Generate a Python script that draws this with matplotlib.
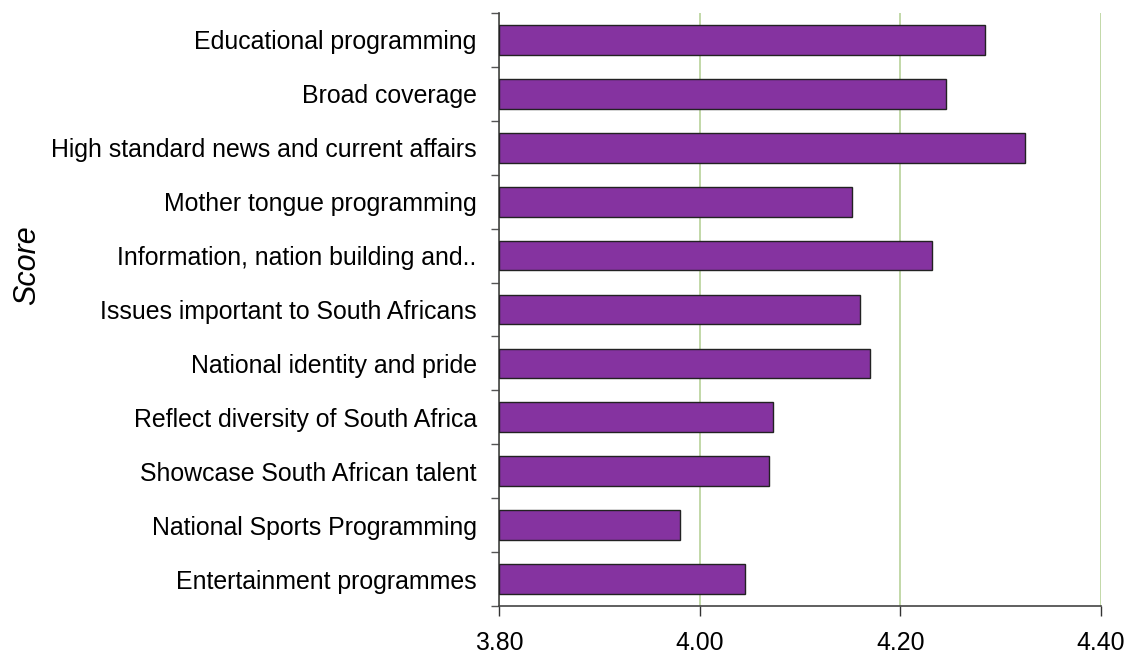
import matplotlib
matplotlib.use("Agg")
import matplotlib.pyplot as plt
import numpy as np

categories = [
    "Educational programming",
    "Broad coverage",
    "High standard news and current affairs",
    "Mother tongue programming",
    "Information, nation building and..",
    "Issues important to South Africans",
    "National identity and pride",
    "Reflect diversity of South Africa",
    "Showcase South African talent",
    "National Sports Programming",
    "Entertainment programmes",
]
scores = [4.284, 4.246, 4.324, 4.152, 4.232, 4.160, 4.170, 4.073, 4.069, 3.980, 4.045]
xticks = [3.80, 4.00, 4.20, 4.40]
xticklabels = ["3.80", "4.00", "4.20", "4.40"]

plt.rcParams['font.family'] = ['Liberation Sans', 'DejaVu Sans']

fig = plt.figure(figsize=(11.28, 6.57), dpi=100)
ax = fig.add_axes([499/1128, 1-606/657, (1101-499)/1128, (606-13)/657])

n = len(categories)
pos = np.arange(n)
ax.barh(pos, [s - 3.80 for s in scores], left=3.80, height=0.55,
        color="#8533a0", edgecolor="#222222", linewidth=1.0, zorder=3)

ax.set_ylim(n - 0.5, -0.5)
ax.set_xlim(3.80, 4.40)
ax.set_yticks(pos)
ax.set_yticklabels(categories, fontsize=17.9)
ax.set_yticks(np.arange(n + 1) - 0.5, minor=True)
ax.tick_params(axis='y', which='major', length=0, pad=16)
ax.tick_params(axis='y', which='minor', length=6, width=1, color="#555555", direction='out')

ax.set_xticks(xticks)
ax.set_xticklabels(xticklabels, fontsize=17.9)
ax.tick_params(axis='x', length=7, width=1, color="#333333", pad=11, direction='out')

ax.xaxis.grid(True, color="#b8d29a", linewidth=1.2, zorder=0)
ax.set_axisbelow(True)

for s in ['top', 'right']:
    ax.spines[s].set_visible(False)
for s in ['left', 'bottom']:
    ax.spines[s].set_color("#444444")
    ax.spines[s].set_linewidth(1.2)

fig.text(27/1128, 1-265/657, "Score", rotation=90, fontsize=22, style='italic',
         ha='center', va='center')

fig.savefig("out.png", dpi=100)
